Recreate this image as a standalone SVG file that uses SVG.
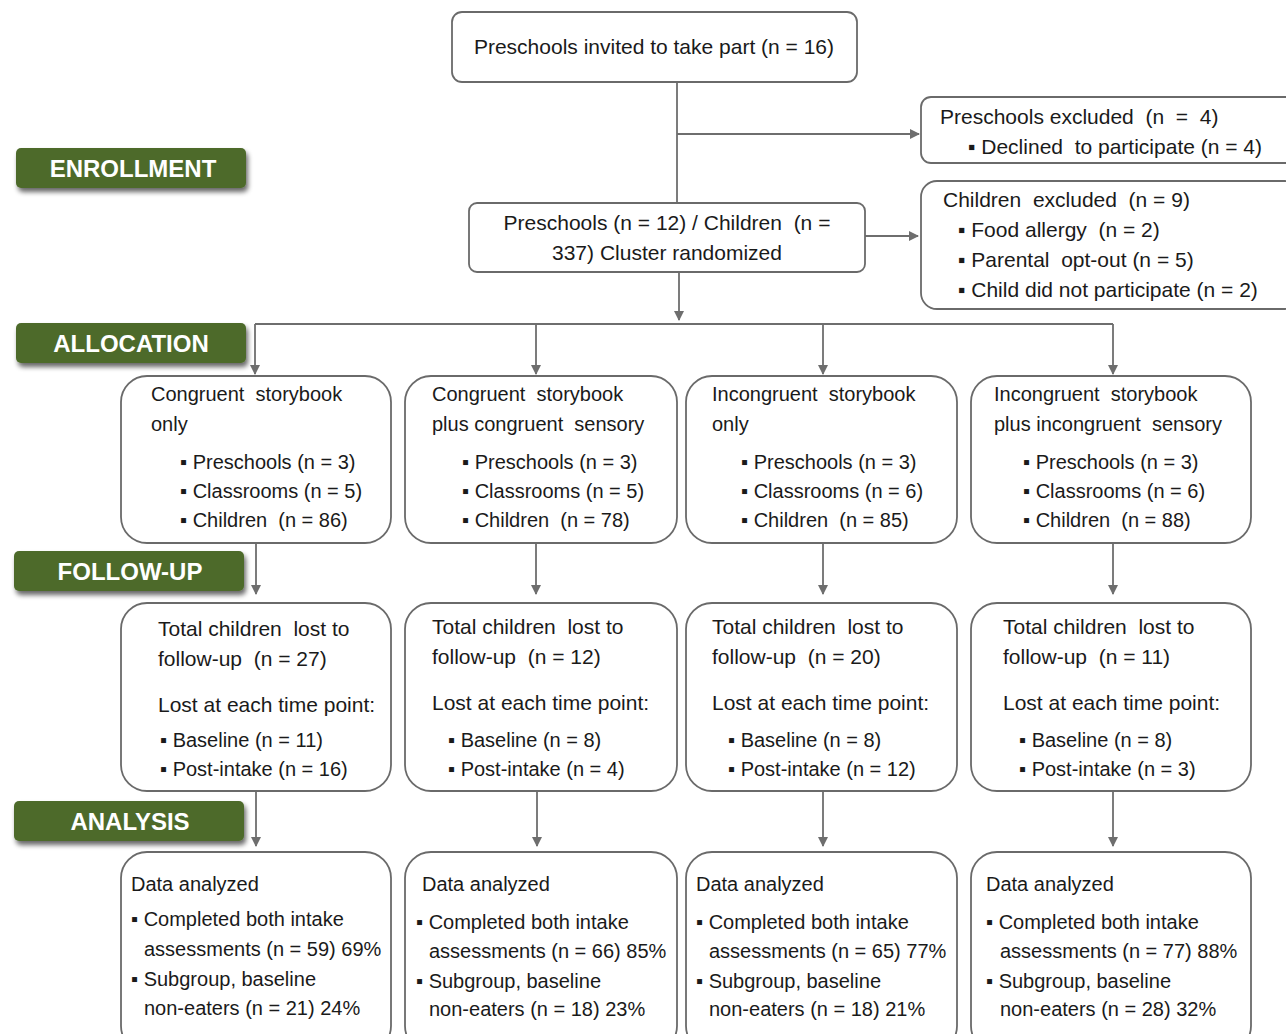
<svg xmlns="http://www.w3.org/2000/svg" width="1286" height="1034" viewBox="0 0 1286 1034" xml:space="preserve">
<defs>
<marker id="ah" viewBox="0 0 10 10" refX="9" refY="5" markerWidth="10" markerHeight="10" markerUnits="userSpaceOnUse" orient="auto">
<path d="M0,0 L10,5 L0,10 Z" fill="#6e6e6e"/>
</marker>
<filter id="sh" x="-10%" y="-30%" width="125%" height="180%">
<feGaussianBlur in="SourceAlpha" stdDeviation="2.5"/>
<feOffset dx="2" dy="4" result="b"/>
<feComponentTransfer><feFuncA type="linear" slope="0.6"/></feComponentTransfer>
<feMerge><feMergeNode/><feMergeNode in="SourceGraphic"/></feMerge>
</filter>
<style>
text{font-family:"Liberation Sans",Arial,sans-serif;font-size:20px;fill:#1a1a1a;white-space:pre}
.big{font-size:21px}
.box{fill:#fff;stroke:#6a6a6a;stroke-width:1.8}
.lbl{fill:#4e6b2c}
.lt{fill:#fff;font-weight:bold;font-size:24px;text-anchor:middle}
.c{fill:none;stroke:#6e6e6e;stroke-width:1.8}
.m{text-anchor:middle}
</style>
</defs>
<rect width="1286" height="1034" fill="#fff"/>

<g id="labels">
<g id="lbl-enrollment"><rect class="lbl" x="16" y="148" width="230" height="40" rx="5" filter="url(#sh)"/><text class="lt" x="133" y="177">ENROLLMENT</text></g>
<g id="lbl-allocation"><rect class="lbl" x="16" y="323" width="230" height="40" rx="5" filter="url(#sh)"/><text class="lt" x="131" y="352">ALLOCATION</text></g>
<g id="lbl-followup"><rect class="lbl" x="14" y="551" width="230" height="40" rx="5" filter="url(#sh)"/><text class="lt" x="130" y="580">FOLLOW-UP</text></g>
<g id="lbl-analysis"><rect class="lbl" x="14" y="801" width="230" height="40" rx="5" filter="url(#sh)"/><text class="lt" x="130" y="830">ANALYSIS</text></g>
</g>

<g id="connectors">
<path class="c" d="M677,82 V202"/>
<path class="c" d="M677,134 H919" marker-end="url(#ah)"/>
<path class="c" d="M865,236 H918" marker-end="url(#ah)"/>
<path class="c" d="M679,272 V320" marker-end="url(#ah)"/>
<path class="c" d="M255,324 H1113"/>
<path class="c" d="M255,324 V374" marker-end="url(#ah)"/>
<path class="c" d="M536,324 V374" marker-end="url(#ah)"/>
<path class="c" d="M823,324 V374" marker-end="url(#ah)"/>
<path class="c" d="M1113,324 V374" marker-end="url(#ah)"/>
<path class="c" d="M256,543 V594" marker-end="url(#ah)"/>
<path class="c" d="M536,543 V594" marker-end="url(#ah)"/>
<path class="c" d="M823,543 V594" marker-end="url(#ah)"/>
<path class="c" d="M1113,543 V594" marker-end="url(#ah)"/>
<path class="c" d="M256,791 V846" marker-end="url(#ah)"/>
<path class="c" d="M537,791 V846" marker-end="url(#ah)"/>
<path class="c" d="M823,791 V846" marker-end="url(#ah)"/>
<path class="c" d="M1113,791 V846" marker-end="url(#ah)"/>
</g>

<g id="invited"><rect class="box" x="452" y="12" width="405" height="70" rx="10"/><text class="m big" x="654" y="54">Preschools invited to take part (n = 16)</text></g>
<g id="preschools-excluded"><rect class="box" x="921" y="97" width="380" height="66" rx="10"/>
<text class="big" x="940" y="124">Preschools excluded  (n  =  4)</text>
<text class="big" x="968" y="154">▪ Declined  to participate (n = 4)</text></g>
<g id="randomized"><rect class="box" x="469" y="203" width="396" height="69" rx="8"/>
<text class="m big" x="667" y="230">Preschools (n = 12) / Children  (n =</text>
<text class="m big" x="667" y="260">337) Cluster randomized</text></g>
<g id="children-excluded"><rect class="box" x="921" y="181" width="380" height="128" rx="16"/>
<text class="big" x="943" y="207">Children  excluded  (n = 9)</text>
<text class="big" x="958" y="237">▪ Food allergy  (n = 2)</text>
<text class="big" x="958" y="267">▪ Parental  opt-out (n = 5)</text>
<text class="big" x="958" y="297">▪ Child did not participate (n = 2)</text></g>

<g id="alloc1"><rect class="box" x="121" y="376" width="270" height="167" rx="26"/>
<text x="151" y="401">Congruent  storybook</text><text x="151" y="431">only</text>
<text x="180" y="469">▪ Preschools (n = 3)</text><text x="180" y="498">▪ Classrooms (n = 5)</text><text x="180" y="527">▪ Children  (n = 86)</text></g>
<g id="alloc2"><rect class="box" x="405" y="376" width="272" height="167" rx="26"/>
<text x="432" y="401">Congruent  storybook</text><text x="432" y="431">plus congruent  sensory</text>
<text x="462" y="469">▪ Preschools (n = 3)</text><text x="462" y="498">▪ Classrooms (n = 5)</text><text x="462" y="527">▪ Children  (n = 78)</text></g>
<g id="alloc3"><rect class="box" x="686" y="376" width="271" height="167" rx="26"/>
<text x="712" y="401">Incongruent  storybook</text><text x="712" y="431">only</text>
<text x="741" y="469">▪ Preschools (n = 3)</text><text x="741" y="498">▪ Classrooms (n = 6)</text><text x="741" y="527">▪ Children  (n = 85)</text></g>
<g id="alloc4"><rect class="box" x="971" y="376" width="280" height="167" rx="26"/>
<text x="994" y="401">Incongruent  storybook</text><text x="994" y="431">plus incongruent  sensory</text>
<text x="1023" y="469">▪ Preschools (n = 3)</text><text x="1023" y="498">▪ Classrooms (n = 6)</text><text x="1023" y="527">▪ Children  (n = 88)</text></g>

<g id="follow1"><rect class="box" x="121" y="603" width="270" height="188" rx="26"/>
<text class="big" x="158" y="636">Total children  lost to</text><text class="big" x="158" y="666">follow-up  (n = 27)</text>
<text class="big" x="158" y="712">Lost at each time point:</text>
<text x="160" y="747">▪ Baseline (n = 11)</text><text x="160" y="776">▪ Post-intake (n = 16)</text></g>
<g id="follow2"><rect class="box" x="405" y="603" width="272" height="188" rx="26"/>
<text class="big" x="432" y="634">Total children  lost to</text><text class="big" x="432" y="664">follow-up  (n = 12)</text>
<text class="big" x="432" y="710">Lost at each time point:</text>
<text x="448" y="747">▪ Baseline (n = 8)</text><text x="448" y="776">▪ Post-intake (n = 4)</text></g>
<g id="follow3"><rect class="box" x="686" y="603" width="271" height="188" rx="26"/>
<text class="big" x="712" y="634">Total children  lost to</text><text class="big" x="712" y="664">follow-up  (n = 20)</text>
<text class="big" x="712" y="710">Lost at each time point:</text>
<text x="728" y="747">▪ Baseline (n = 8)</text><text x="728" y="776">▪ Post-intake (n = 12)</text></g>
<g id="follow4"><rect class="box" x="971" y="603" width="280" height="188" rx="26"/>
<text class="big" x="1003" y="634">Total children  lost to</text><text class="big" x="1003" y="664">follow-up  (n = 11)</text>
<text class="big" x="1003" y="710">Lost at each time point:</text>
<text x="1019" y="747">▪ Baseline (n = 8)</text><text x="1019" y="776">▪ Post-intake (n = 3)</text></g>

<g id="analysis1"><rect class="box" x="121" y="852" width="270" height="200" rx="26"/>
<text x="131" y="891">Data analyzed</text><text x="131" y="926">▪ Completed both intake</text><text x="144" y="956">assessments (n = 59) 69%</text>
<text x="131" y="986">▪ Subgroup, baseline</text><text x="144" y="1015">non-eaters (n = 21) 24%</text></g>
<g id="analysis2"><rect class="box" x="405" y="852" width="272" height="200" rx="26"/>
<text x="422" y="891">Data analyzed</text><text x="416" y="929">▪ Completed both intake</text><text x="429" y="958">assessments (n = 66) 85%</text>
<text x="416" y="988">▪ Subgroup, baseline</text><text x="429" y="1016">non-eaters (n = 18) 23%</text></g>
<g id="analysis3"><rect class="box" x="686" y="852" width="271" height="200" rx="26"/>
<text x="696" y="891">Data analyzed</text><text x="696" y="929">▪ Completed both intake</text><text x="709" y="958">assessments (n = 65) 77%</text>
<text x="696" y="988">▪ Subgroup, baseline</text><text x="709" y="1016">non-eaters (n = 18) 21%</text></g>
<g id="analysis4"><rect class="box" x="971" y="852" width="280" height="200" rx="26"/>
<text x="986" y="891">Data analyzed</text><text x="986" y="929">▪ Completed both intake</text><text x="1000" y="958">assessments (n = 77) 88%</text>
<text x="986" y="988">▪ Subgroup, baseline</text><text x="1000" y="1016">non-eaters (n = 28) 32%</text></g>
</svg>
